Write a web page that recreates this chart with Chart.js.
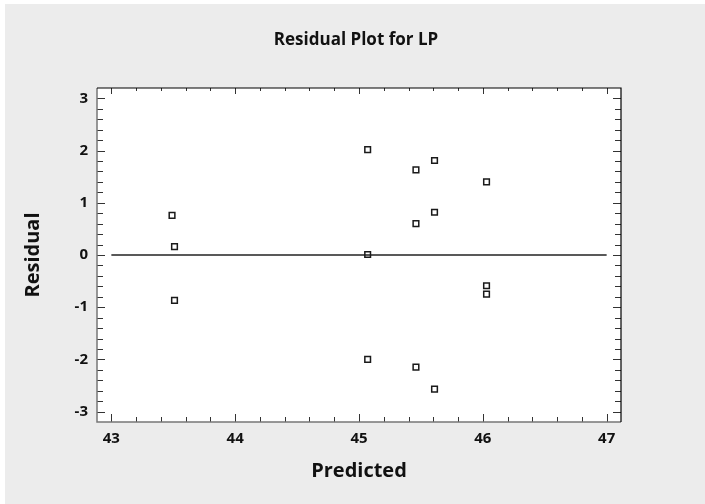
<!DOCTYPE html>
<html>
<head>
<meta charset="utf-8">
<script src="https://cdn.jsdelivr.net/npm/chart.js@4/dist/chart.umd.min.js"></script>
<style>
  html, body { margin: 0; padding: 0; background: #ffffff; }
  #wrap { width: 705px; height: 504px; position: relative; }
</style>
</head>
<body>
<div id="wrap"><canvas id="c" width="705" height="504"></canvas></div>
<script>
// ---- data ----
const predicted = [43.49, 43.51, 43.51, 45.07, 45.07, 45.07, 45.46, 45.46, 45.46, 45.61, 45.61, 45.61, 46.03, 46.03, 46.03];
const residuals = [0.76, 0.16, -0.87, 2.02, 0.01, -2.00, 1.63, 0.60, -2.15, 1.81, 0.82, -2.57, 1.40, -0.59, -0.75];
const zeroLineX = [43, 47];
const zeroLineY = [0, 0];
const xTickValues = [43, 44, 45, 46, 47];
const yTickValues = [-3, -2, -1, 0, 1, 2, 3];
const titleText = 'Residual Plot for LP';
const xTitle = 'Predicted';
const yTitle = 'Residual';

const FONT = "'Open Sans', 'Noto Sans', sans-serif";

const pts = predicted.map((x, i) => ({ x: x, y: residuals[i] }));
const zeroPts = zeroLineX.map((x, i) => ({ x: x, y: zeroLineY[i] }));

const framePlugin = {
  id: 'frame',
  beforeDraw(chart) {
    const ctx = chart.ctx;
    const a = chart.chartArea;
    ctx.save();
    ctx.fillStyle = '#ffffff';
    ctx.fillRect(0, 0, chart.width, chart.height);
    ctx.fillStyle = '#ececec';
    ctx.fillRect(5, 4, chart.width - 5, chart.height - 4);
    ctx.fillStyle = '#ffffff';
    ctx.fillRect(a.left, a.top, a.right - a.left, a.bottom - a.top);
    ctx.restore();
  },
  afterDraw(chart) {
    const ctx = chart.ctx;
    const a = chart.chartArea;
    const xs = chart.scales.x, ys = chart.scales.y;
    ctx.save();
    ctx.lineWidth = 1;
    const xStart = xTickValues[0], xEnd = xTickValues[xTickValues.length - 1];
    for (let k = 0; k <= (xEnd - xStart) * 5; k++) {
      const v = xStart + k * 0.2;
      const major = k % 5 === 0;
      const len = major ? 8 : 5;
      const px = Math.round(xs.getPixelForValue(v)) + 0.5;
      ctx.strokeStyle = '#333333';
      ctx.beginPath();
      ctx.moveTo(px, a.bottom); ctx.lineTo(px, a.bottom - len);
      ctx.moveTo(px, a.top); ctx.lineTo(px, a.top + (major ? 6 : 3));
      ctx.stroke();
    }
    const yStart = yTickValues[0], yEnd = yTickValues[yTickValues.length - 1];
    for (let k = 0; k <= (yEnd - yStart) * 5; k++) {
      const v = yStart + k * 0.2;
      const major = k % 5 === 0;
      const len = major ? 8 : 6;
      const py = Math.round(ys.getPixelForValue(v)) + 0.5;
      ctx.strokeStyle = '#333333';
      ctx.beginPath();
      ctx.moveTo(a.left, py); ctx.lineTo(a.left + len, py);
      ctx.moveTo(a.right, py); ctx.lineTo(a.right - len, py);
      ctx.stroke();
    }
    ctx.lineWidth = 1.5;
    ctx.strokeStyle = '#777777';
    ctx.beginPath();
    ctx.moveTo(a.left, a.top); ctx.lineTo(a.left, a.bottom); ctx.lineTo(a.right, a.bottom);
    ctx.stroke();
    ctx.lineWidth = 1.2;
    ctx.strokeStyle = '#000000';
    ctx.beginPath();
    ctx.moveTo(a.left, a.top); ctx.lineTo(a.right, a.top); ctx.lineTo(a.right, a.bottom);
    ctx.stroke();
    ctx.restore();
  }
};

new Chart(document.getElementById('c'), {
  type: 'scatter',
  data: {
    datasets: [
      {
        type: 'line',
        data: zeroPts,
        borderColor: '#222222',
        borderWidth: 1.3,
        pointRadius: 0,
        fill: false,
        order: 2
      },
      {
        data: pts,
        pointStyle: 'rect',
        pointRadius: 4,
        pointBorderWidth: 1.5,
        pointBorderColor: '#1a1a1a',
        pointBackgroundColor: 'rgba(255,255,255,0)',
        order: 1
      }
    ]
  },
  options: {
    responsive: false,
    animation: false,
    events: [],
    layout: { padding: { left: 7, top: 0, right: 0, bottom: 0 } },
    plugins: {
      legend: { display: false },
      tooltip: { enabled: false },
      title: {
        display: true,
        text: titleText,
        color: '#111111',
        font: { family: FONT, size: 17, weight: 'bold', lineHeight: 1.2 },
        padding: { top: 30, bottom: 37.6 }
      }
    },
    scales: {
      x: {
        type: 'linear',
        min: 42.884,
        max: 47.116,
        grid: { display: false, drawTicks: false },
        border: { display: false },
        afterBuildTicks(scale) { scale.ticks = xTickValues.map(v => ({ value: v })); },
        afterFit(scale) { scale.height = 82; },
        ticks: {
          color: '#111111',
          padding: 8,
          maxRotation: 0,
          font: { family: FONT, size: 15, weight: 'bold' },
          callback: v => String(v)
        },
        title: {
          display: true,
          text: xTitle,
          color: '#111111',
          font: { family: FONT, size: 20, weight: 'bold', lineHeight: 1.2 },
          padding: { top: 0, bottom: 21 }
        }
      },
      y: {
        type: 'linear',
        min: -3.2,
        max: 3.2,
        grid: { display: false, drawTicks: false },
        border: { display: false },
        afterBuildTicks(scale) { scale.ticks = yTickValues.map(v => ({ value: v })); },
        afterFit(scale) { scale.width = 90; },
        ticks: {
          color: '#111111',
          padding: 9,
          font: { family: FONT, size: 15, weight: 'bold' },
          callback: v => String(v)
        },
        title: {
          display: true,
          text: yTitle,
          color: '#111111',
          font: { family: FONT, size: 20, weight: 'bold', lineHeight: 1.2 },
          padding: { top: 14, bottom: 0 }
        }
      },
      yRight: {
        type: 'linear',
        position: 'right',
        display: true,
        grid: { display: false, drawTicks: false },
        border: { display: false },
        ticks: { display: false },
        afterFit(scale) { scale.width = 84; }
      }
    }
  },
  plugins: [framePlugin]
});
</script>
</body>
</html>
